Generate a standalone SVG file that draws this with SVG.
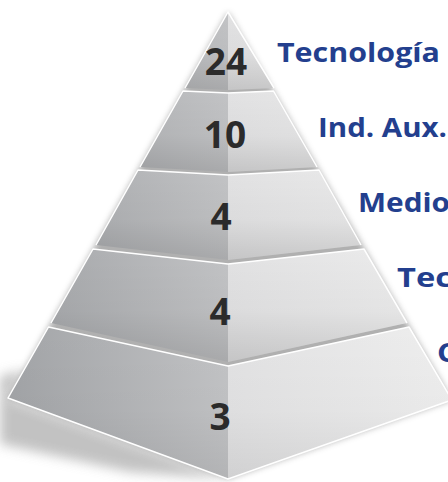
<svg xmlns="http://www.w3.org/2000/svg" width="448" height="482" viewBox="0 0 448 482">
<defs>
<linearGradient id="gl" gradientUnits="userSpaceOnUse" x1="8" y1="0" x2="228" y2="0">
<stop offset="0" stop-color="#a2a4a7"/><stop offset="1" stop-color="#c2c3c5"/>
</linearGradient>
<linearGradient id="gr" gradientUnits="userSpaceOnUse" x1="228" y1="0" x2="450" y2="0">
<stop offset="0" stop-color="#e2e2e3"/><stop offset="1" stop-color="#eeeeee"/>
</linearGradient>
<linearGradient id="band" x1="0" y1="0" x2="0" y2="1">
<stop offset="0" stop-color="#000" stop-opacity="0"/><stop offset="0.55" stop-color="#000" stop-opacity="0.03"/><stop offset="1" stop-color="#000" stop-opacity="0.13"/>
</linearGradient>
<filter id="blur" x="-20%" y="-20%" width="140%" height="140%"><feGaussianBlur stdDeviation="3"/></filter>
<filter id="blur2" x="-30%" y="-30%" width="160%" height="160%"><feGaussianBlur stdDeviation="6"/></filter>
<style>
.l{fill:url(#gl)}
.r{fill:url(#gr)}
.b{fill:url(#band)}
.e{fill:none;stroke:#fff;stroke-width:1.5;stroke-linejoin:round}
.n{font-family:"Open Sans","Liberation Sans",sans-serif;font-weight:700;font-size:37px;fill:#2b2b2b;text-anchor:middle}
.t{font-family:"Open Sans","Liberation Sans",sans-serif;font-weight:700;font-size:27px;fill:#233f8e}
</style>
</defs>
<rect width="448" height="482" fill="#fff"/>
<polygon points="0,376 26,370 8,398 228,479 130,472 0,444" fill="#b8b8b8" opacity="0.85" filter="url(#blur2)"/>
<polygon points="228,12 452,400 228,479 8,398" fill="#8f8f8f" opacity="0.7" filter="url(#blur)"/>
<g id="layer1">
<polygon class="l" points="228,12 228,90 185,88"/>
<polygon class="r" points="228,12 274,88 228,90"/>
<polygon class="b" points="228,12 274,88 228,90 185,88"/>
<polyline class="e" points="185,88 228,12 274,88"/>
<text class="n" x="226" y="75">24</text>
</g>
<g id="layer2">
<polygon class="l" points="183,91 228,93 228,172 140,167"/>
<polygon class="r" points="228,93 273.5,91 317,167 228,172"/>
<polygon class="b" points="183,91 228,93 273.5,91 317,167 228,172 140,167"/>
<polyline class="e" points="140,167 183,91 228,93 273.5,91 317,167"/>
<text class="n" x="225" y="148">10</text>
</g>
<g id="layer3">
<polygon class="l" points="138,170 228,175 228,260 96,245"/>
<polygon class="r" points="228,175 319,170 361,245 228,260"/>
<polygon class="b" points="138,170 228,175 319,170 361,245 228,260 96,245"/>
<polyline class="e" points="96,245 138,170 228,175 319,170 361,245"/>
<text class="n" x="221" y="230">4</text>
</g>
<g id="layer4">
<polygon class="l" points="93,249 228,264 228,362 51,323"/>
<polygon class="r" points="228,264 364,249 407,323 228,362"/>
<polygon class="b" points="93,249 228,264 364,249 407,323 228,362 51,323"/>
<polyline class="e" points="51,323 93,249 228,264 364,249 407,323"/>
<text class="n" x="220" y="325">4</text>
</g>
<g id="layer5">
<polygon class="l" points="48.5,327 228,366 228,479 8,398"/>
<polygon class="r" points="228,366 409,327 452,400 228,479"/>
<polygon class="b" points="48.5,327 228,366 409,327 452,400 228,479 8,398" opacity="0.6"/>
<polyline class="e" points="452,400 409,327 228,366 48.5,327 8,398 228,479 452,400"/>
<text class="n" x="220" y="430">3</text>
</g>
<g id="labels">
<text class="t" x="277" y="62" textLength="163" lengthAdjust="spacingAndGlyphs">Tecnología</text>
<text class="t" x="318" y="137" textLength="129" lengthAdjust="spacingAndGlyphs">Ind. Aux.</text>
<text class="t" x="358" y="212" textLength="92" lengthAdjust="spacingAndGlyphs">Medio</text>
<text class="t" x="397" y="287" textLength="55" lengthAdjust="spacingAndGlyphs">Tec</text>
<text class="t" x="437" y="362" textLength="20" lengthAdjust="spacingAndGlyphs">C</text>
</g>
</svg>
